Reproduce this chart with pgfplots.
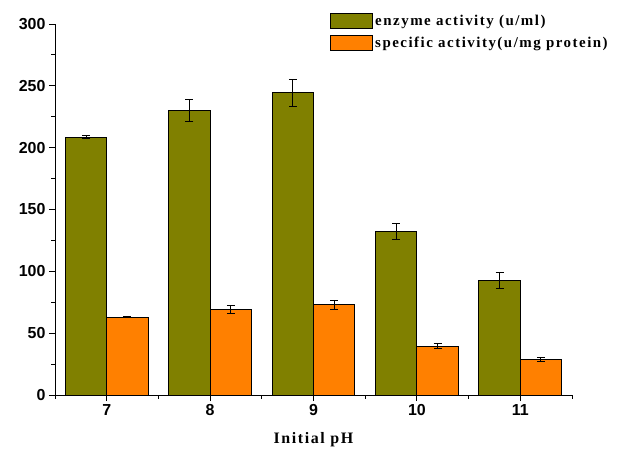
\documentclass[border=0pt]{standalone}
\usepackage{pgfplots}
\pgfplotsset{compat=1.18}
\usepackage{pgfplotstable}
\usepackage{fontspec}
\setmainfont{Liberation Serif}
\newfontfamily\tickfont{Liberation Sans}
\newfontfamily\legfont{Liberation Serif}[LetterSpace=10]
\definecolor{olivebar}{RGB}{128,128,0}
\definecolor{orangebar}{RGB}{255,128,0}
\pgfplotstableread{
x green gerr orange oerr
7 208.5 1.2 63 0.6
8 230 9 69 3
9 244.5 11 73 3.5
10 132 6.5 39.5 2.3
11 92.5 6.2 28.5 1.6
}\datatab
\begin{document}
\begin{tikzpicture}
\useasboundingbox (0,0) rectangle (624bp,451bp);
\begin{axis}[
  at={(55bp,56bp)}, anchor=south west,
  scale only axis, width=517bp, height=371bp,
  xmin=6.5, xmax=11.5, ymin=0, ymax=300,
  axis x line*=bottom, axis y line*=left,
  axis line style={line width=0.9bp, black},
  xtick={7,8,9,10,11},
  minor xtick={6.5,7.5,8.5,9.5,10.5,11.5},
  ytick={0,50,...,300},
  minor ytick={25,75,...,275},
  tick align=outside,
  major tick length=6bp, minor tick length=3.5bp,
  tick style={line width=0.9bp, black},
  /pgf/number format/assume math mode=true,
  ticklabel style={font=\tickfont\bfseries\fontsize{16}{18}\selectfont},
  xlabel={Initial pH},
  xlabel style={font=\legfont\bfseries\fontsize{16}{18}\selectfont, yshift=-10bp},
  ybar, bar width=0.4,
  legend style={draw=none, fill=none, at={(0.532,1.03)}, anchor=north west,
    font=\legfont\bfseries\fontsize{15}{17}\selectfont, row sep=6bp,
    inner sep=0pt, cells={anchor=west}},
  legend image code/.code={\draw[#1, line width=1bp] (0bp,-7.5bp) rectangle (42bp,7.5bp);},
  every axis plot/.append style={draw=black, line width=1bp},
  error bars/error bar style={line width=1bp, black},
  error bars/error mark options={rotate=90, mark size=4bp, line width=1bp, black},
]
\addplot[fill=olivebar, bar shift=-0.2, error bars/.cd, y dir=both, y explicit]
  table[x=x, y=green, y error=gerr] {\datatab};
\addplot[fill=orangebar, bar shift=0.2, error bars/.cd, y dir=both, y explicit]
  table[x=x, y=orange, y error=oerr] {\datatab};
\legend{enzyme activity (u/ml), specific activity(u/mg protein)}
\end{axis}
\end{tikzpicture}
\end{document}
